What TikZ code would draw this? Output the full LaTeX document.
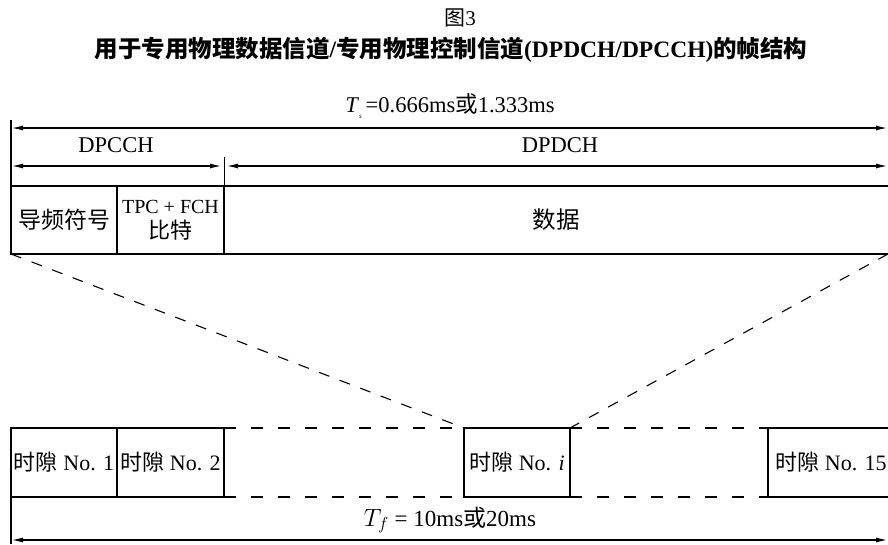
\documentclass[tikz,border=0pt]{standalone}
\usepackage{fontspec}
\setmainfont{Liberation Serif}
\newfontfamily\cjk{Noto Sans CJK SC}
\usetikzlibrary{arrows.meta}

\newcommand{\zh}[1]{{\cjk #1}}

\tikzset{
	field/.style={draw, line width=1.6pt, inner sep=0pt, outer sep=0pt, minimum height=68pt,
		anchor=north west, align=center, font=\fontsize{22}{26}\selectfont},
	span/.style={{Latex[length=12pt,width=5pt]}-{Latex[length=12pt,width=5pt]}, line width=1.6pt},
	gapline/.style={line width=2.4pt, dash pattern=on 12pt off 15pt},
	zoomline/.style={line width=1.1pt, dash pattern=on 11pt off 11pt},
	label/.style={inner sep=0pt, font=\fontsize{22.5}{26}\selectfont}
}

\begin{document}
\begin{tikzpicture}[x=1pt,y=-1pt]
\useasboundingbox (0,0) rectangle (888,544);

% captions
\node[label, font=\fontsize{21}{24}\selectfont] (fig) at (460,18) {\zh{图}3};
\node[label, font=\fontsize{23.5}{26}\selectfont] (title) at (451,50) {\bfseries\zh{用于专用物理数据信道}/\zh{专用物理控制信道}(DPDCH/DPCCH)\zh{的帧结构}};

% slot fields
\node[field, minimum width=106pt] (pilot) at (11,186) {\fontsize{23}{26}\selectfont\zh{导频符号}};
\node[field, minimum width=107pt] (tpc) at (pilot.north east) {{\fontsize{20}{22}\selectfont TPC + FCH}\\[-1pt]\zh{比特}};
\node[field, draw=none, minimum width=664pt] (data) at (tpc.north east) {\fontsize{23.5}{26}\selectfont\zh{数据}};
\draw[line width=1.6pt] (tpc.north east) -- (data.north east) (tpc.south east) -- (data.south east);

% lengths
\coordinate (tsL) at (11,128);
\coordinate (tsR) at (888,128);
\coordinate (ccL) at (11,166);
\coordinate (ccR) at (222,166);
\coordinate (dcL) at (226,166);
\coordinate (dcR) at (888,166);
\coordinate (topL) at (11,120);
\coordinate (tick) at (224,157);
\draw[line width=1.2pt] (topL) -- (pilot.north west);
\draw[line width=1pt] (tick) -- (tpc.north east);
\draw[span] (tsL) -- (tsR);
\draw[span] (ccL) -- (ccR);
\draw[span] (dcL) -- (dcR);
\node[label] (ts) at (450,106) {\textit{T}\raisebox{-6pt}{\fontsize{7}{7}\selectfont\textit{s}}\,=0.666ms\zh{或}1.333ms};
\node[label] (cc) at (116,145) {DPCCH};
\node[label] (dc) at (560,145) {DPDCH};

% frame of slots
\node[field, minimum width=106pt, minimum height=69pt] (slot1) at (11,428) {\zh{时隙} No. 1};
\node[field, minimum width=107pt, minimum height=69pt] (slot2) at (slot1.north east) {\zh{时隙} No. 2};
\node[field, minimum width=106pt, minimum height=69pt] (sloti) at (464,428) {\zh{时隙} No. \textit{i}};
\node[field, draw=none, minimum width=120pt, minimum height=69pt] (slot15) at (768,428) {\hspace*{6pt}\zh{时隙} No. 15};
\draw[line width=1.6pt] (slot15.north east) -- (slot15.north west) -- (slot15.south west) -- (slot15.south east);

\draw[gapline] (slot2.north east) -- (sloti.north west);
\draw[gapline] (slot2.south east) -- (sloti.south west);
\draw[gapline] (sloti.north east) -- (slot15.north west);
\draw[gapline] (sloti.south east) -- (slot15.south west);

\draw[zoomline] (pilot.south west) -- (sloti.north west);
\draw[zoomline] (data.south east) -- (sloti.north east);

\coordinate (tfL) at (11,540);
\coordinate (tfR) at (888,540);
\coordinate (botL) at (11,544);
\draw[line width=1.2pt] (slot1.south west) -- (botL);
\draw[span] (tfL) -- (tfR);
\node[label, font=\fontsize{23}{26}\selectfont] (tf) at (450,520) {$T_f$ = 10ms\zh{或}20ms};

\end{tikzpicture}
\end{document}
